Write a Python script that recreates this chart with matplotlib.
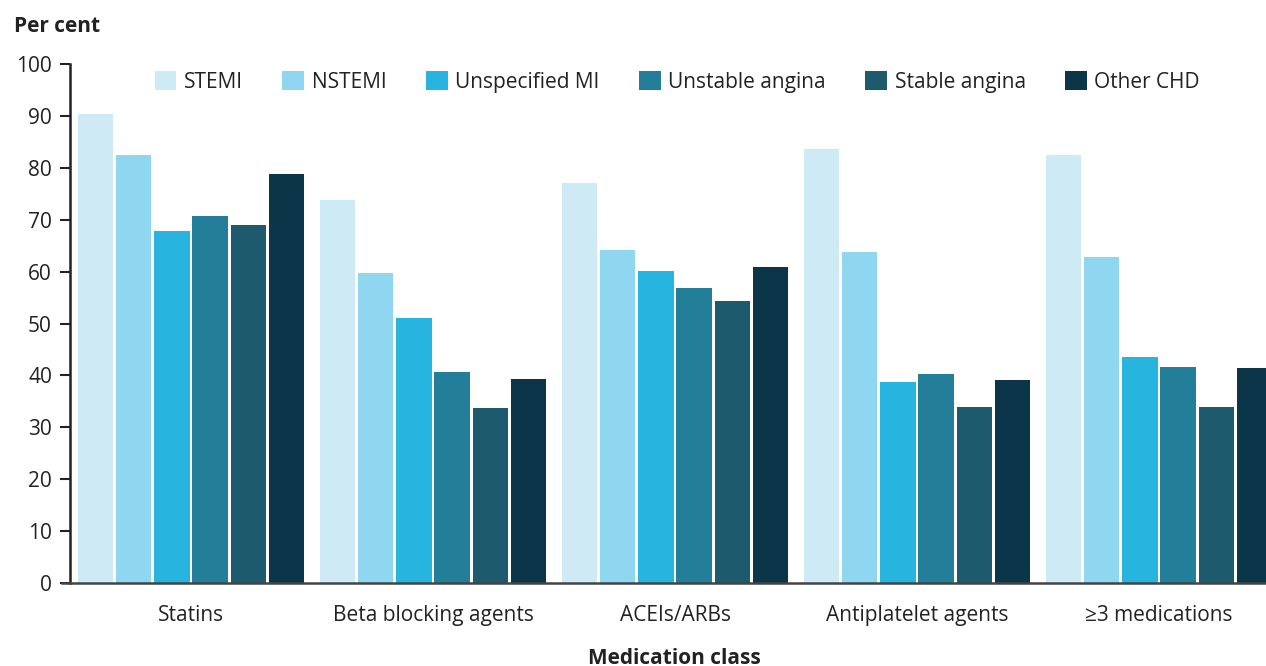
import matplotlib.pyplot as plt
import numpy as np

plt.rcParams['font.family'] = ['Open Sans', 'DejaVu Sans']

categories = ['Statins', 'Beta blocking agents', 'ACEIs/ARBs', 'Antiplatelet agents', '≥3 medications']
series = ['STEMI', 'NSTEMI', 'Unspecified MI', 'Unstable angina', 'Stable angina', 'Other CHD']
values = {
    'STEMI':           [90.3, 73.8, 77.0, 83.6, 82.5],
    'NSTEMI':          [82.4, 59.8, 64.2, 63.8, 62.8],
    'Unspecified MI':  [67.9, 51.1, 60.1, 38.7, 43.5],
    'Unstable angina': [70.7, 40.7, 56.8, 40.3, 41.6],
    'Stable angina':   [69.0, 33.7, 54.3, 33.9, 33.9],
    'Other CHD':       [78.8, 39.3, 60.9, 39.1, 41.4],
}
colors = ['#cdeaf5', '#8fd7f0', '#27b4de', '#237f99', '#1d5a6e', '#0b3649']

fig = plt.figure(figsize=(12.66, 6.66), dpi=100)
ax = fig.add_axes([0.0553, 0.1246, 0.9447, 0.7793])

x = np.arange(len(categories))
slot = 0.158
for i, name in enumerate(series):
    ax.bar(x + (i - 2.5) * slot, values[name], width=slot * 0.93,
           color=colors[i], label=name, zorder=2)

ax.set_xlim(-0.5, 4.5 - 0.058)
ax.set_ylim(0, 100)
ax.set_yticks(range(0, 101, 10))
ax.set_xticks(x)
ax.set_xticklabels(categories)
ax.tick_params(axis='y', labelsize=15, length=7, width=1.5, color='#222222',
               labelcolor='#222222', pad=6)
ax.tick_params(axis='x', labelsize=15, length=0, labelcolor='#222222', pad=16)

for s in ['top', 'right']:
    ax.spines[s].set_visible(False)
ax.spines['left'].set_color('#222222')
ax.spines['left'].set_linewidth(1.8)
ax.spines['bottom'].set_color('#444444')
ax.spines['bottom'].set_linewidth(1.8)
ax.spines['bottom'].set_bounds(-0.535, 4.5)

ax.legend(loc='upper left', bbox_to_anchor=(0.055, 1.023), ncol=6, frameon=False,
          fontsize=15, handlelength=1.05, handleheight=1.05,
          handletextpad=0.35, columnspacing=1.9, labelcolor='#222222')

fig.text(0.011, 0.96, 'Per cent', fontsize=15, fontweight='bold',
         color='#222222', va='center', ha='left')
fig.text(0.533, 0.012, 'Medication class', fontsize=15, fontweight='bold',
         color='#222222', va='center', ha='center')

fig.savefig('out.png', dpi=100)
